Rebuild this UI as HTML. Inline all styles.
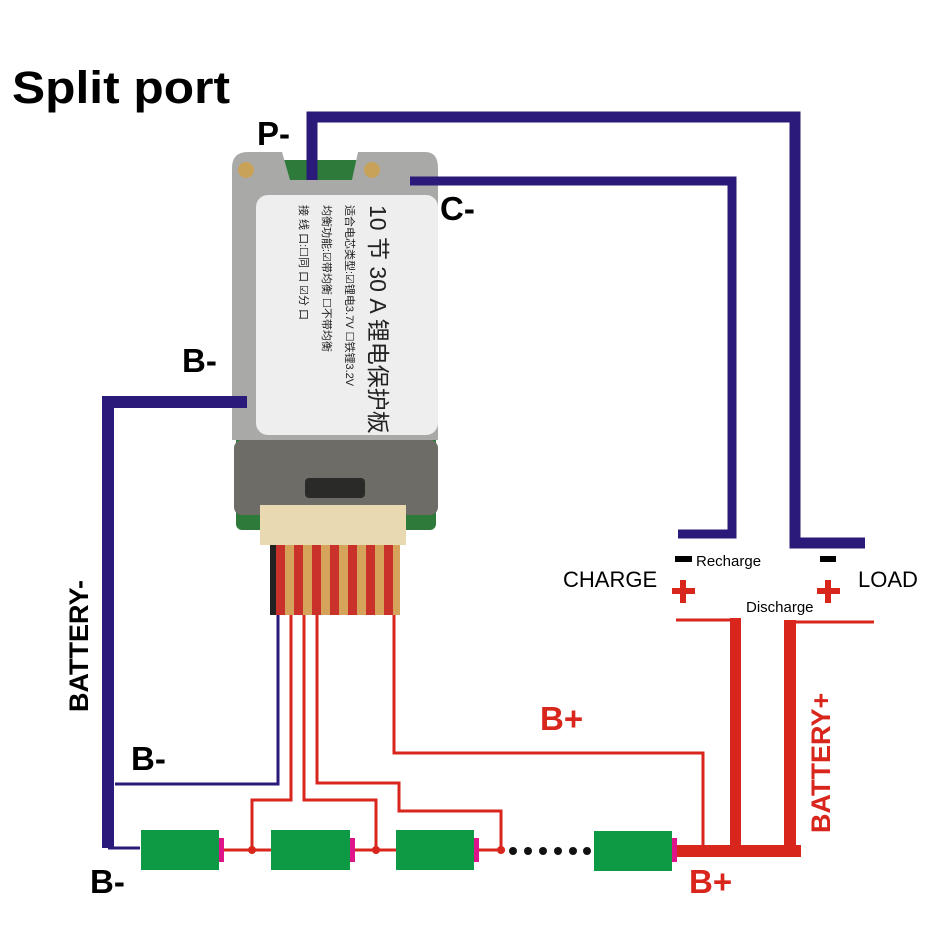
<!DOCTYPE html>
<html><head><meta charset="utf-8"><style>
html,body{margin:0;padding:0;background:#fff;}
svg{display:block;}
text{font-family:"Liberation Sans","Noto Sans CJK SC",sans-serif;}
</style></head><body>
<svg width="925" height="925" viewBox="0 0 925 925" xmlns="http://www.w3.org/2000/svg">
<rect width="925" height="925" fill="#fff"/>
<text x="12" y="103" font-size="45" font-weight="bold" fill="#000" textLength="218" lengthAdjust="spacingAndGlyphs">Split port</text>

<!-- Board -->
<rect x="236" y="160" width="200" height="370" rx="6" fill="#2e7a3a"/>
<path d="M232,168 Q232,152 248,152 L282,152 L290,180 L352,180 L358,152 L425,152 Q438,152 438,168 L438,440 L232,440 Z" fill="#a9aaa8"/>
<circle cx="246" cy="170" r="8" fill="#c9a25a"/>
<circle cx="372" cy="170" r="8" fill="#c9a25a"/>
<rect x="234" y="440" width="204" height="75" rx="8" fill="#6e6c66"/>
<rect x="305" y="478" width="60" height="20" rx="4" fill="#2a2a28"/>
<rect x="256" y="195" width="182" height="240" rx="12" fill="#eeeeee"/>
<g transform="translate(370,205) rotate(90)" fill="#222">
<text x="0" y="0" font-size="23">10 节 30 A 锂电保护板</text>
<text x="0" y="24" font-size="11">适合电芯类型:☑锂电3.7V ☐铁锂3.2V</text>
<text x="0" y="47" font-size="11">均衡功能:☑带均衡 ☐不带均衡</text>
<text x="0" y="70" font-size="11">接 线 口:☐同 口 ☑分 口</text>
</g>
<rect x="260" y="505" width="146" height="40" fill="#e8d9b0"/>
<rect x="270" y="545" width="130" height="70" fill="#d6a35a"/>
<g fill="#c8322a">
<rect x="276" y="545" width="9" height="70"/><rect x="294" y="545" width="9" height="70"/>
<rect x="312" y="545" width="9" height="70"/><rect x="330" y="545" width="9" height="70"/>
<rect x="348" y="545" width="9" height="70"/><rect x="366" y="545" width="9" height="70"/>
<rect x="384" y="545" width="9" height="70"/>
</g>
<rect x="270" y="545" width="6" height="70" fill="#222"/>

<!-- Blue wires -->
<g fill="none" stroke="#2b1a7a" stroke-linejoin="miter">
<polyline points="312,180 312,117 795,117 795,543 865,543" stroke-width="11"/>
<polyline points="410,181 732,181 732,534 678,534" stroke-width="9"/>
<polyline points="247,402 108,402 108,848" stroke-width="12"/>
<polyline points="108,848 140,848" stroke-width="3"/>
<polyline points="278,615 278,784 115,784" stroke-width="3"/>
</g>

<!-- Red wires -->
<g fill="none" stroke="#d9261c" stroke-width="3">
<polyline points="291,615 291,800 252,800 252,850"/>
<polyline points="304,615 304,800 376,800 376,850"/>
<polyline points="317,615 317,783 399,783 399,811 501,811 501,850"/>
<polyline points="394,615 394,753 703,753 703,850"/>
<polyline points="676,620 738,620"/>
<polyline points="793,622 874,622"/>
<line x1="219" y1="850" x2="271" y2="850"/>
<line x1="350" y1="850" x2="396" y2="850"/>
<line x1="474" y1="850" x2="505" y2="850"/>
</g>
<g fill="#d9261c">
<rect x="672" y="845" width="129" height="12"/>
<rect x="730" y="618" width="11" height="234"/>
<rect x="784" y="620" width="12" height="232"/>
<circle cx="252" cy="850" r="4"/><circle cx="376" cy="850" r="4"/><circle cx="501" cy="850" r="4"/>
</g>

<!-- Batteries -->
<g fill="#0e9a45">
<rect x="141" y="830" width="78" height="40"/>
<rect x="271" y="830" width="79" height="40"/>
<rect x="396" y="830" width="78" height="40"/>
<rect x="594" y="831" width="78" height="40"/>
</g>
<g fill="#e0148a">
<rect x="219" y="838" width="5" height="24"/><rect x="350" y="838" width="5" height="24"/>
<rect x="474" y="838" width="5" height="24"/><rect x="672" y="838" width="5" height="24"/>
</g>
<g fill="#111">
<circle cx="513" cy="851" r="4"/><circle cx="528" cy="851" r="4"/><circle cx="543" cy="851" r="4"/>
<circle cx="558" cy="851" r="4"/><circle cx="573" cy="851" r="4"/><circle cx="587" cy="851" r="4"/>
</g>

<!-- Labels -->
<g font-weight="bold" font-size="33" fill="#000">
<text x="257" y="145">P-</text>
<text x="440" y="220">C-</text>
<text x="182" y="372">B-</text>
<text x="131" y="770">B-</text>
<text x="90" y="893">B-</text>
</g>
<text transform="translate(88,712) rotate(-90)" font-size="27" font-weight="bold" fill="#000">BATTERY-</text>
<g font-weight="bold" font-size="33" fill="#d9261c">
<text x="540" y="730">B+</text>
<text x="689" y="893">B+</text>
</g>
<text transform="translate(830,833) rotate(-90)" font-size="27" font-weight="bold" fill="#d9261c">BATTERY+</text>
<text x="563" y="587" font-size="22" fill="#000">CHARGE</text>
<text x="858" y="587" font-size="22" fill="#000">LOAD</text>
<text x="696" y="566" font-size="15" fill="#000">Recharge</text>
<text x="746" y="612" font-size="15" fill="#000">Discharge</text>
<rect x="675" y="556" width="17" height="6" fill="#000"/>
<rect x="820" y="556" width="16" height="6" fill="#000"/>
<g fill="#d9261c">
<rect x="672" y="588" width="23" height="6"/><rect x="680" y="580" width="6" height="23"/>
<rect x="817" y="588" width="23" height="6"/><rect x="825" y="580" width="6" height="23"/>
</g>
</svg>
</body></html>
